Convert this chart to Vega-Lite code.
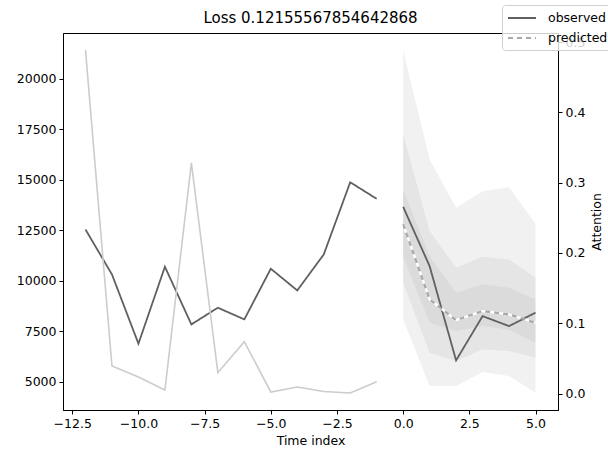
{
  "$schema": "https://vega.github.io/schema/vega-lite/v6.json",
  "width": 495,
  "height": 377,
  "autosize": {"type": "none"},
  "padding": {"left": 63, "top": 33, "right": 50, "bottom": 41},
  "background": "white",
  "title": {"text": "Loss 0.12155567854642868", "fontSize": 15, "font": "DejaVu Sans", "fontWeight": "normal", "color": "black", "offset": 7, "dy": 28},
  "config": {
    "view": {"stroke": "black", "strokeWidth": 1},
    "axis": {"grid": false, "domainColor": "black", "tickColor": "black", "labelColor": "black", "titleColor": "black", "labelFont": "DejaVu Sans", "titleFont": "DejaVu Sans", "labelFontSize": 12.5, "titleFontSize": 12.5, "titleFontWeight": "normal", "tickSize": 4, "domainWidth": 1, "tickWidth": 1, "labelPadding": 3},
    "legend": {"labelFont": "DejaVu Sans", "labelFontSize": 12.5, "labelColor": "black"}
  },
  "datasets": {
    "bands": [
      {"t": 0, "lo": 8084, "hi": 21428, "band": "q02-q98"},
      {"t": 1, "lo": 4782, "hi": 16004, "band": "q02-q98"},
      {"t": 2, "lo": 4782, "hi": 13613, "band": "q02-q98"},
      {"t": 3, "lo": 5475, "hi": 14435, "band": "q02-q98"},
      {"t": 4, "lo": 5277, "hi": 14633, "band": "q02-q98"},
      {"t": 5, "lo": 4443, "hi": 12820, "band": "q02-q98"},
      {"t": 0, "lo": 9900, "hi": 17241, "band": "q10-q90"},
      {"t": 1, "lo": 6436, "hi": 12455, "band": "q10-q90"},
      {"t": 2, "lo": 6020, "hi": 10643, "band": "q10-q90"},
      {"t": 3, "lo": 6599, "hi": 11188, "band": "q10-q90"},
      {"t": 4, "lo": 6515, "hi": 11054, "band": "q10-q90"},
      {"t": 5, "lo": 6188, "hi": 10148, "band": "q10-q90"},
      {"t": 0, "lo": 11200, "hi": 14500, "band": "q25-q75"},
      {"t": 1, "lo": 7921, "hi": 11218, "band": "q25-q75"},
      {"t": 2, "lo": 7505, "hi": 9405, "band": "q25-q75"},
      {"t": 3, "lo": 7752, "hi": 9816, "band": "q25-q75"},
      {"t": 4, "lo": 7589, "hi": 9653, "band": "q25-q75"},
      {"t": 5, "lo": 6931, "hi": 9074, "band": "q25-q75"}
    ],
    "obs": [
      {"t": -12, "value": 12539, "segment": "encoder", "series": "observed"},
      {"t": -11, "value": 10311, "segment": "encoder", "series": "observed"},
      {"t": -10, "value": 6881, "segment": "encoder", "series": "observed"},
      {"t": -9, "value": 10693, "segment": "encoder", "series": "observed"},
      {"t": -8, "value": 7836, "segment": "encoder", "series": "observed"},
      {"t": -7, "value": 8663, "segment": "encoder", "series": "observed"},
      {"t": -6, "value": 8084, "segment": "encoder", "series": "observed"},
      {"t": -5, "value": 10594, "segment": "encoder", "series": "observed"},
      {"t": -4, "value": 9519, "segment": "encoder", "series": "observed"},
      {"t": -3, "value": 11301, "segment": "encoder", "series": "observed"},
      {"t": -2, "value": 14880, "segment": "encoder", "series": "observed"},
      {"t": -1, "value": 14059, "segment": "encoder", "series": "observed"},
      {"t": 0, "value": 13663, "segment": "decoder", "series": "observed"},
      {"t": 1, "value": 10722, "segment": "decoder", "series": "observed"},
      {"t": 2, "value": 6054, "segment": "decoder", "series": "observed"},
      {"t": 3, "value": 8247, "segment": "decoder", "series": "observed"},
      {"t": 4, "value": 7752, "segment": "decoder", "series": "observed"},
      {"t": 5, "value": 8416, "segment": "decoder", "series": "observed"}
    ],
    "pred": [
      {"t": 0, "value": 12800, "series": "predicted"},
      {"t": 1, "value": 9074, "series": "predicted"},
      {"t": 2, "value": 8049, "series": "predicted"},
      {"t": 3, "value": 8495, "series": "predicted"},
      {"t": 4, "value": 8331, "series": "predicted"},
      {"t": 5, "value": 7920, "series": "predicted"}
    ],
    "attn": [
      {"t": -12, "attention": 0.4885},
      {"t": -11, "attention": 0.0392},
      {"t": -10, "attention": 0.0236},
      {"t": -9, "attention": 0.0051},
      {"t": -8, "attention": 0.3281},
      {"t": -7, "attention": 0.0298},
      {"t": -6, "attention": 0.0739},
      {"t": -5, "attention": 0.0023},
      {"t": -4, "attention": 0.0094},
      {"t": -3, "attention": 0.0030},
      {"t": -2, "attention": 0.0009},
      {"t": -1, "attention": 0.0170}
    ]
  },
  "encoding": {
    "x": {"field": "t", "type": "quantitative", "scale": {"domain": [-12.85, 5.85], "nice": false, "zero": false},
      "axis": {"title": "Time index", "values": [-12.5, -10, -7.5, -5, -2.5, 0, 2.5, 5], "format": ".1f", "titlePadding": 5}}
  },
  "layer": [
    {
      "layer": [
        {
          "data": {"name": "bands"},
          "mark": {"type": "area", "color": "#a0a0a0", "opacity": 0.15},
          "encoding": {
            "y": {"field": "hi", "type": "quantitative", "scale": {"domain": [3594, 22277], "nice": false, "zero": false},
              "axis": {"orient": "left", "title": null, "values": [5000, 7500, 10000, 12500, 15000, 17500, 20000], "format": "d"}},
            "y2": {"field": "lo"},
            "detail": {"field": "band"}
          }
        },
        {
          "data": {"name": "obs"},
          "mark": {"type": "line", "strokeWidth": 1.8},
          "encoding": {
            "y": {"field": "value", "type": "quantitative"},
            "detail": {"field": "segment"},
            "stroke": {"field": "series", "type": "nominal",
              "scale": {"domain": ["observed", "predicted"], "range": ["#606060", "#a8a8a8"]},
              "legend": {"title": null, "orient": "none", "legendX": 439, "legendY": -28, "symbolType": "M-1,0L3,0", "symbolSize": 196, "symbolStrokeWidth": 2, "symbolFillColor": "transparent", "fillColor": "rgba(255,255,255,0.8)", "strokeColor": "#d0d0d0", "cornerRadius": 3, "padding": 5, "rowPadding": 5, "labelOffset": 25}},
            "strokeDash": {"field": "series", "type": "nominal",
              "scale": {"domain": ["observed", "predicted"], "range": [[1, 0], [5, 4]]},
              "legend": {"title": null, "orient": "none", "legendX": 439, "legendY": -28, "symbolType": "M-1,0L3,0", "symbolSize": 196, "symbolStrokeWidth": 2, "symbolFillColor": "transparent", "fillColor": "rgba(255,255,255,0.8)", "strokeColor": "#d0d0d0", "cornerRadius": 3, "padding": 5, "rowPadding": 5, "labelOffset": 25}}
          }
        },
        {
          "data": {"name": "pred"},
          "mark": {"type": "line", "strokeWidth": 2},
          "encoding": {
            "y": {"field": "value", "type": "quantitative"},
            "stroke": {"field": "series", "type": "nominal"},
            "strokeDash": {"field": "series", "type": "nominal"}
          }
        },
        {
          "data": {"name": "pred"},
          "mark": {"type": "line", "strokeWidth": 2.4, "color": "white", "strokeDash": [4, 5], "strokeDashOffset": 4},
          "encoding": {
            "y": {"field": "value", "type": "quantitative"}
          }
        }
      ]
    },
    {
      "data": {"name": "attn"},
      "mark": {"type": "line", "color": "#cccccc", "strokeWidth": 1.6},
      "encoding": {
        "y": {"field": "attention", "type": "quantitative", "scale": {"domain": [-0.0233, 0.5128], "nice": false, "zero": false},
          "axis": {"orient": "right", "title": "Attention", "titleAngle": 270, "values": [0, 0.1, 0.2, 0.3, 0.4, 0.5], "format": ".1f", "titlePadding": 19}}
      }
    }
  ],
  "resolve": {"scale": {"y": "independent"}}
}
